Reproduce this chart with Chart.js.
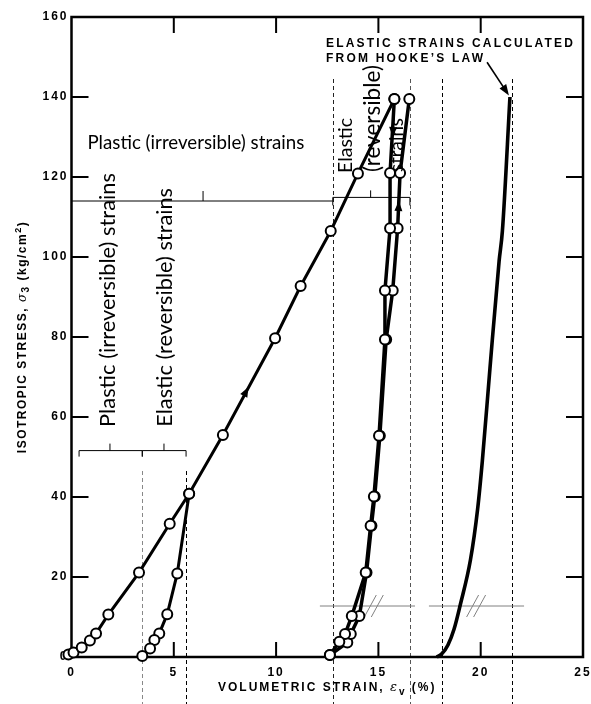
<!DOCTYPE html>
<html>
<head>
<meta charset="utf-8">
<script src="https://cdn.jsdelivr.net/npm/chart.js@4.4.0/dist/chart.umd.min.js"></script>
<style>
  html, body { margin: 0; padding: 0; background: #fff; }
  canvas { display: block; }
</style>
</head>
<body>
<canvas id="chart" width="591" height="704"></canvas>
<script>
// --- DATA ---

// first loading, origin up to 140 kg/cm2
const load1X = [-0.15, 0.1, 0.5, 0.9, 1.2, 1.8, 3.3, 4.8, 5.75, 7.4, 9.95, 11.2, 12.67, 14.0, 15.78];
const load1Y = [0.6, 1.1, 2.4, 4.1, 5.9, 10.6, 21.1, 33.3, 40.8, 55.5, 79.7, 92.75, 106.5, 120.9, 139.5];

// unloading from 41 kg/cm2
const unload1X = [5.75, 5.17, 4.68, 4.29, 4.05, 3.84, 3.46];
const unload1Y = [40.8, 20.9, 10.7, 5.9, 4.25, 2.1, 0.25];

// unloading from 140 kg/cm2
const unload2X = [15.78, 15.57, 15.57, 15.32, 15.32, 15.03, 14.78, 14.62, 14.38, 13.7, 13.37, 13.09, 12.63];
const unload2Y = [139.5, 121, 107.2, 91.6, 79.4, 55.3, 40.1, 32.8, 21.1, 10.25, 5.75, 3.8, 0.5];

// reloading to 140 kg/cm2
const reload2X = [12.63, 13.48, 13.65, 14.07, 14.42, 14.66, 14.82, 15.07, 15.38, 15.7, 15.94, 16.06, 16.51];
const reload2Y = [0.5, 3.6, 5.75, 10.25, 21.1, 32.8, 40.1, 55.3, 79.4, 91.6, 107.2, 121, 139.5];

// elastic strains from Hooke's law
const hookeX = [17.85, 18.1, 18.4, 18.7, 19.0, 19.5, 19.85, 20.08, 20.45, 20.9, 21.06, 21.43];
const hookeY = [0, 0.8, 3, 7, 13, 24.3, 37, 49, 72, 99, 106.5, 140];

const xTicks = [0, 5, 10, 15, 20, 25];
const yTicks = [0, 20, 40, 60, 80, 100, 120, 140, 160];

// dashed guide lines (x position, top in stress units)
const guideX = [3.46, 5.6, 12.77, 16.54, 18.1, 21.52];
const guideTop = [46.5, 46.5, 144.5, 144.5, 144.5, 144.5];
const guideColor = ['#888', '#000', '#222', '#555', '#000', '#000'];

// arrows drawn along the curves
const flowArrows = [
    { from: [7.4, 55.5], to: [8.65, 67.5] },
    { from: [15.78, 139.5], to: [15.7, 130] },
    { from: [15.94, 107.2], to: [16.0, 114] },
];

const pts = (xs, ys) => xs.map((x, i) => ({ x, y: ys[i] }));

// --- DRAW HELPERS ---

function fitText(ctx, str, cx, cy, len, vertical) {
    ctx.save();
    ctx.letterSpacing = '0px';
    ctx.font = '100px Lato';
    const size = 100 * len / ctx.measureText(str).width;
    ctx.font = size.toFixed(2) + 'px Lato';
    ctx.translate(cx, cy);
    if (vertical) ctx.rotate(-Math.PI / 2);
    ctx.textAlign = 'center';
    ctx.textBaseline = 'middle';
    ctx.fillStyle = '#000';
    ctx.fillText(str, 0, 0);
    ctx.restore();
}

// parts: [text, font, baseline shift]
function richText(ctx, parts, cx, cy, vertical, spacing) {
    ctx.save();
    ctx.letterSpacing = spacing + 'px';
    let total = 0;
    parts.forEach(p => { ctx.font = p[1]; total += ctx.measureText(p[0]).width; });
    ctx.translate(cx, cy);
    if (vertical) ctx.rotate(-Math.PI / 2);
    ctx.textBaseline = 'alphabetic';
    ctx.textAlign = 'left';
    ctx.fillStyle = '#000';
    let x = -total / 2;
    parts.forEach(p => {
        ctx.font = p[1];
        ctx.fillText(p[0], x, 4 + p[2]);
        x += ctx.measureText(p[0]).width;
    });
    ctx.restore();
}

function arrowHead(ctx, x1, y1, x2, y2, len, half) {
    const a = Math.atan2(y2 - y1, x2 - x1);
    ctx.beginPath();
    ctx.moveTo(x2, y2);
    ctx.lineTo(x2 - len * Math.cos(a) + half * Math.sin(a), y2 - len * Math.sin(a) - half * Math.cos(a));
    ctx.lineTo(x2 - len * Math.cos(a) - half * Math.sin(a), y2 - len * Math.sin(a) + half * Math.cos(a));
    ctx.closePath();
    ctx.fill();
}

function bracket(ctx, xs, ys, x1, x2, y, mid, endL, endR, midLen, endLen) {
    const px1 = xs.getPixelForValue(x1), px2 = xs.getPixelForValue(x2);
    const py = ys.getPixelForValue(y), pm = xs.getPixelForValue(mid);
    ctx.beginPath();
    ctx.moveTo(px1, py); ctx.lineTo(px2, py);
    if (endL) { ctx.moveTo(px1, py); ctx.lineTo(px1, py + endLen); }
    if (endR) { ctx.moveTo(px2, py); ctx.lineTo(px2, py + endLen); }
    ctx.moveTo(pm, py); ctx.lineTo(pm, py - midLen);
    ctx.stroke();
}

const annotations = {
    id: 'annotations',
    beforeDraw(chart) {
        chart.ctx.letterSpacing = '2px';
    },
    beforeDatasetsDraw(chart) {
        const { ctx, chartArea: a, scales: { x, y } } = chart;
        ctx.save();
        ctx.letterSpacing = '0px';

        // dashed guides, running past the axis to the page bottom
        ctx.lineWidth = 1;
        ctx.setLineDash([4, 3]);
        guideX.forEach((g, i) => {
            ctx.strokeStyle = guideColor[i];
            const px = Math.round(x.getPixelForValue(g)) + 0.5;
            ctx.beginPath();
            ctx.moveTo(px, y.getPixelForValue(guideTop[i]));
            ctx.lineTo(px, chart.height);
            ctx.stroke();
        });
        ctx.setLineDash([]);

        // frame
        ctx.strokeStyle = '#000';
        ctx.lineWidth = 2.5;
        ctx.strokeRect(a.left, a.top, a.right - a.left, a.bottom - a.top);

        // inward ticks
        ctx.lineWidth = 2;
        ctx.beginPath();
        xTicks.slice(1, -1).forEach(t => {
            const px = x.getPixelForValue(t);
            ctx.moveTo(px, a.bottom); ctx.lineTo(px, a.bottom - 15);
            ctx.moveTo(px, a.top); ctx.lineTo(px, a.top + 16);
        });
        yTicks.slice(1, -1).forEach(t => {
            const py = y.getPixelForValue(t);
            ctx.moveTo(a.left, py); ctx.lineTo(a.left + 17, py);
            ctx.moveTo(a.right, py); ctx.lineTo(a.right - 17, py);
        });
        ctx.stroke();

        // brackets
        ctx.lineWidth = 1;
        ctx.strokeStyle = '#000';
        bracket(ctx, x, y, 0, 12.77, 114, 6.43, false, false, 10, 0);
        bracket(ctx, x, y, 12.77, 16.54, 114.9, 14.62, true, true, 7, 8);
        bracket(ctx, x, y, 0.37, 3.46, 51.6, 1.88, true, true, 7, 6);
        bracket(ctx, x, y, 3.46, 5.6, 51.6, 4.52, true, true, 7, 6);

        // grey axis-break lines
        ctx.strokeStyle = '#808080';
        ctx.lineWidth = 1;
        const by = y.getPixelForValue(12.75);
        [[12.14, 16.79, 14.8], [17.47, 22.12, 19.8]].forEach(s => {
            ctx.beginPath();
            ctx.moveTo(x.getPixelForValue(s[0]), by);
            ctx.lineTo(x.getPixelForValue(s[1]), by);
            const c = x.getPixelForValue(s[2]);
            [-4, 3].forEach(o => {
                ctx.moveTo(c + o - 6, by + 11);
                ctx.lineTo(c + o + 6, by - 11);
            });
            ctx.stroke();
        });
        ctx.restore();
    },
    afterDatasetsDraw(chart) {
        const { ctx, chartArea: a, scales: { x, y } } = chart;
        ctx.save();
        ctx.letterSpacing = '0px';
        ctx.fillStyle = '#000';

        // flow arrows on the curves
        flowArrows.forEach(f => {
            arrowHead(ctx, x.getPixelForValue(f.from[0]), y.getPixelForValue(f.from[1]),
                x.getPixelForValue(f.to[0]), y.getPixelForValue(f.to[1]), 10, 4);
        });

        // Hooke's law pointer
        const hx1 = x.getPixelForValue(20.31), hy1 = y.getPixelForValue(148.7);
        const hx2 = x.getPixelForValue(21.38), hy2 = y.getPixelForValue(140.4);
        ctx.strokeStyle = '#000';
        ctx.lineWidth = 1.6;
        ctx.beginPath();
        ctx.moveTo(hx1, hy1); ctx.lineTo(hx2 - 4, hy2 - 6);
        ctx.stroke();
        arrowHead(ctx, hx1, hy1, hx2, hy2, 11, 4);

        ctx.letterSpacing = '2.2px';
        ctx.font = 'bold 12px "Liberation Sans"';
        ctx.textAlign = 'left';
        ctx.textBaseline = 'middle';
        ctx.fillText('ELASTIC STRAINS CALCULATED', x.getPixelForValue(12.44), y.getPixelForValue(153.4));
        ctx.fillText('FROM HOOKE\u2019S LAW', x.getPixelForValue(12.44), y.getPixelForValue(149.5));
        ctx.restore();

        // bracket captions
        fitText(ctx, 'Plastic (irreversible) strains', x.getPixelForValue(6.08), y.getPixelForValue(128.5), 217, false);
        fitText(ctx, 'Plastic (irreversible) strains', x.getPixelForValue(1.78), y.getPixelForValue(89.25), 254, true);
        fitText(ctx, 'Elastic (reversible) strains', x.getPixelForValue(4.57), y.getPixelForValue(87.4), 239, true);
        fitText(ctx, 'Elastic', x.getPixelForValue(13.42), y.getPixelForValue(127.9), 55, true);
        fitText(ctx, '(reversible)', x.getPixelForValue(14.71), y.getPixelForValue(134.6), 107, true);
        fitText(ctx, 'strains', x.getPixelForValue(15.93), y.getPixelForValue(128), 54, true);

        // axis titles
        const B = 'bold 12px "Liberation Sans"';
        richText(ctx, [
            ['VOLUMETRIC STRAIN, ', B, 0],
            ['\u03b5', 'italic 13px "DejaVu Serif"', 0],
            ['v', 'bold 10px "Liberation Sans"', 4],
            [' (%)', B, 0],
        ], (a.left + a.right) / 2, a.bottom + 30, false, 2);
        richText(ctx, [
            ['ISOTROPIC STRESS, ', B, 0],
            ['\u03c3', 'italic 12px "DejaVu Serif"', 0],
            ['3', 'bold 10px "Liberation Sans"', 3],
            [' (kg/cm', B, 0],
            ['2', 'bold 9px "Liberation Sans"', -5],
            [')', B, 0],
        ], a.left - 50, (a.top + a.bottom) / 2, true, 1.5);
    }
};

// --- CHART ---

const lineSet = (data, extra) => Object.assign({
    data,
    showLine: true,
    borderColor: '#000',
    borderWidth: 3,
    pointRadius: 5,
    pointBorderWidth: 2,
    pointBackgroundColor: '#fff',
    pointBorderColor: '#000',
    tension: 0,
    clip: false,
}, extra);

new Chart(document.getElementById('chart'), {
    type: 'scatter',
    data: {
        datasets: [
            lineSet(pts(hookeX, hookeY), { pointRadius: 0, borderWidth: 3.6, cubicInterpolationMode: 'monotone' }),
            lineSet(pts(unload1X, unload1Y)),
            lineSet(pts(load1X, load1Y)),
            lineSet(pts(unload2X, unload2Y), { borderWidth: 3.5 }),
            lineSet(pts(reload2X, reload2Y), { borderWidth: 3.5 }),
        ]
    },
    options: {
        responsive: false,
        animation: false,
        devicePixelRatio: 1,
        layout: { padding: { left: 0, top: 17, right: 8, bottom: 0 } },
        plugins: { legend: { display: false }, tooltip: { enabled: false } },
        scales: {
            x: {
                type: 'linear', min: 0, max: 25,
                afterBuildTicks: s => { s.ticks = xTicks.map(v => ({ value: v })); },
                afterFit: s => { s.height = 47; s.paddingLeft = 0; s.paddingRight = 0; },
                grid: { display: false, drawTicks: false },
                border: { display: false },
                ticks: { color: '#000', padding: 8, font: { family: '"Liberation Sans"', size: 12, weight: 'bold' } }
            },
            y: {
                type: 'linear', min: 0, max: 160,
                afterBuildTicks: s => { s.ticks = yTicks.map(v => ({ value: v })); },
                afterFit: s => { s.width = 71.5; s.paddingTop = 0; s.paddingBottom = 0; },
                grid: { display: false, drawTicks: false },
                border: { display: false },
                ticks: { color: '#000', padding: 3, font: { family: '"Liberation Sans"', size: 12, weight: 'bold' } }
            }
        }
    },
    plugins: [annotations]
});
</script>
</body>
</html>
